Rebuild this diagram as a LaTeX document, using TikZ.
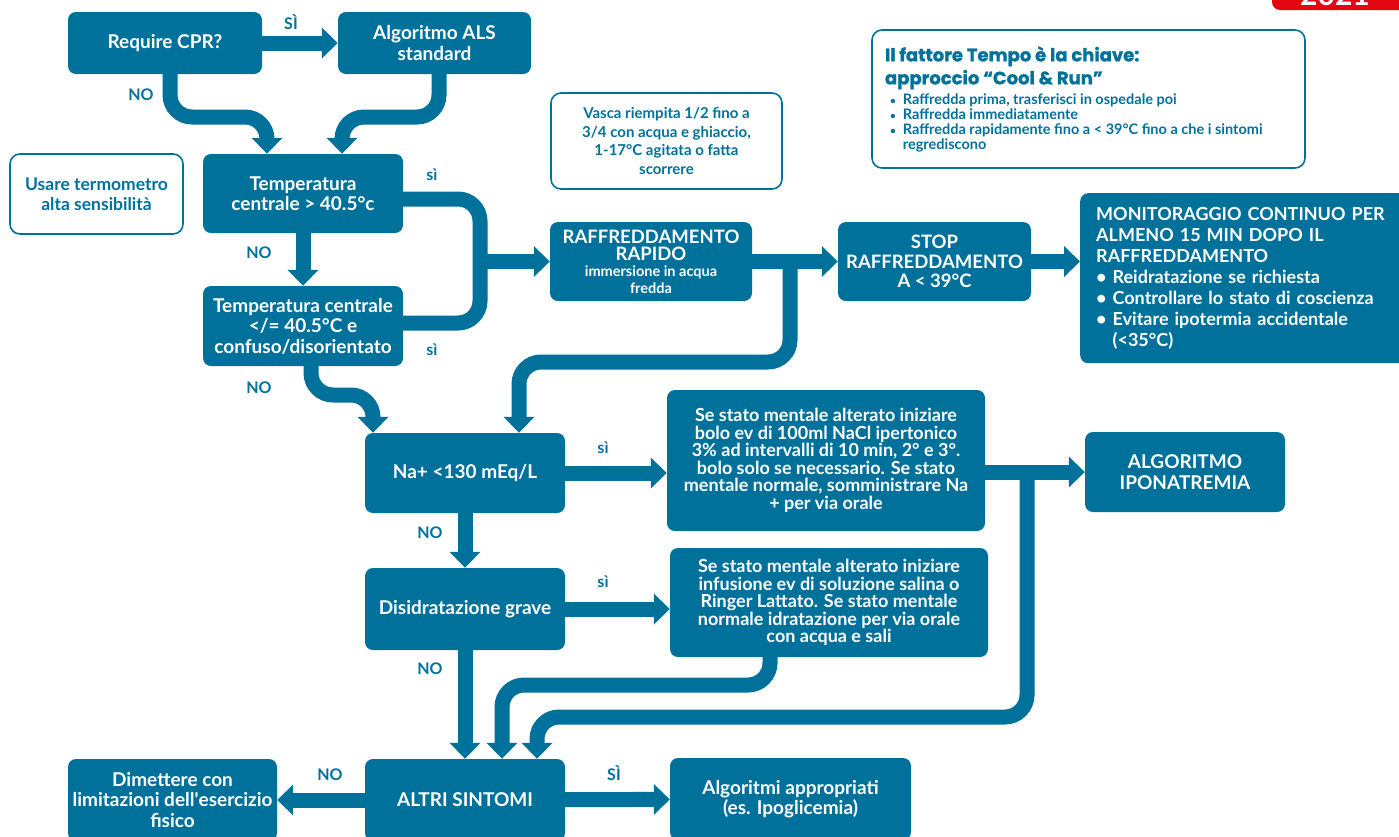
\documentclass[tikz,border=0pt]{standalone}
\usepackage{fontspec}
\setmainfont{Lato}
\newfontfamily\headfont{Poppins}[BoldFeatures={FakeBold=1.2}]
\usepackage{xcolor}
\usepackage{tikz}
\usetikzlibrary{arrows.meta}

\definecolor{hsblue}{RGB}{0,113,155}
\definecolor{hsred}{RGB}{226,6,19}
\newcommand{\ibul}{\hspace*{5pt}{\fontsize{10}{10}\selectfont •}\hspace{7pt}}

\begin{document}
\begin{tikzpicture}[x=1pt,y=-1pt,
        box/.style={fill=hsblue, rounded corners=8pt, text=white, align=center, inner sep=0pt,
            font=\bfseries\fontsize{19}{20.5}\selectfont},
        note/.style={draw=hsblue, line width=1.6pt, rounded corners=10pt, text=hsblue, align=center,
            inner sep=0pt, font=\bfseries\fontsize{17.5}{20}\selectfont},
        band/.style={draw=hsblue, line width=15pt, rounded corners=22pt},
        flow/.style={band, -{Triangle[width=30pt,length=16pt]}},
        lab/.style={text=hsblue, inner sep=0pt, font=\bfseries\fontsize{16}{16}\selectfont}]
        \useasboundingbox (0,0) rectangle (1399,836);

        % badge cut by the page edge
        \begin{scope}
            \clip (0,0) rectangle (1399,836);
            \fill[hsred, rounded corners=8pt] (1272,-40) rectangle (1420,10);
            \node[text=white, anchor=base, inner sep=0pt, font=\bfseries\fontsize{30}{30}\selectfont] (year) at (1335,5) {2021};
        \end{scope}

        \node[box, minimum width=194pt, minimum height=62pt] (cpr) at (165,43) {Require CPR?};
        \node[box, minimum width=193pt, minimum height=62pt] (als) at (434.5,43) {Algoritmo ALS\\standard};
        \node[box, minimum width=200pt, minimum height=79pt] (temp1) at (303,193.5) {Temperatura\\centrale > 40.5°c};
        \node[box, minimum width=200pt, minimum height=80pt] (temp2) at (303,326) {Temperatura centrale\\</= 40.5°C e\\confuso/disorientato};
        \node[note, minimum width=173pt, minimum height=80pt] (termo) at (96.5,194) {Usare termometro\\alta sensibilità};
        \node[note, minimum width=231pt, minimum height=96pt, font=\bfseries\fontsize{15}{18.5}\selectfont] (vasca) at (666.5,141)
            {Vasca riempita 1/2 fino a\\3/4 con acqua e ghiaccio,\\1-17°C agitata o fatta\\scorrere};
        \node[note, minimum width=433pt, minimum height=138pt, align=flush left, text width=407pt, inner xsep=13pt] (info) at (1088.5,99)
            {\headfont\bfseries\fontsize{18}{23}\selectfont Il fattore Tempo è la chiave:\\approccio “Cool \& Run”\par\vspace{4pt}
             \normalfont\bfseries\fontsize{14.5}{14.7}\selectfont
              \ibul Raffredda prima, trasferisci in ospedale poi\\
              \ibul Raffredda immediatamente\\
              \ibul Raffredda rapidamente fino a < 39°C fino a che i sintomi\\
              \phantom{\ibul}regrediscono\par};

        \node[box, minimum width=202pt, minimum height=79pt, font=\bfseries\fontsize{18.5}{17}\selectfont] (raff) at (651,261.5)
            {RAFFREDDAMENTO\\RAPIDO\\[-1pt]\fontsize{14.5}{13.5}\selectfont immersione in acqua\\\fontsize{14.5}{13.5}\selectfont fredda};
        \node[box, minimum width=193pt, minimum height=79pt, font=\bfseries\fontsize{18.5}{19.5}\selectfont] (stop) at (934.5,261.5) {STOP\\RAFFREDDAMENTO\\A < 39°C};
        \node[box, anchor=north west, minimum height=170pt, text width=298pt, inner xsep=16pt, align=left,
            font=\bfseries\fontsize{18}{21}\selectfont] (monit) at (1080,193)
            {MONITORAGGIO CONTINUO PER\\ALMENO 15 MIN DOPO IL\\RAFFREDDAMENTO\\
             • Reidratazione se richiesta\\• Controllare lo stato di coscienza\\
             • Evitare ipotermia accidentale\\\phantom{• }(<35°C)};

        \node[box, minimum width=200pt, minimum height=80pt] (na) at (465,473) {Na+ <130 mEq/L};
        \node[box, minimum width=318pt, minimum height=141pt, font=\bfseries\fontsize{18}{17.5}\selectfont] (se1) at (826,460.5)
            {Se stato mentale alterato iniziare\\bolo ev di 100ml NaCl ipertonico\\3\% ad intervalli di 10 min, 2° e 3°.\\
             bolo solo se necessario. Se stato\\mentale normale, somministrare Na\\+ per via orale};
        \node[box, minimum width=200pt, minimum height=80pt] (ipo) at (1185,472) {ALGORITMO\\IPONATREMIA};
        \node[box, minimum width=200pt, minimum height=82pt] (dis) at (465,609) {Disidratazione grave};
        \node[box, minimum width=318pt, minimum height=109pt, font=\bfseries\fontsize{18}{17.5}\selectfont] (se2) at (829,602.5)
            {Se stato mentale alterato iniziare\\infusione ev di soluzione salina o\\Ringer Lattato. Se stato mentale\\
             normale idratazione per via orale\\con acqua e sali};
        \node[box, minimum width=200pt, minimum height=82pt] (altri) at (465,800) {ALTRI SINTOMI};
        \node[box, minimum width=209pt, minimum height=82pt] (dim) at (172.5,800) {Dimettere con\\limitazioni dell\textquotesingle esercizio\\fisico};
        \node[box, minimum width=241pt, minimum height=82pt] (algo) at (790.5,799) {Algoritmi appropriati\\(es. Ipoglicemia)};

        % junctions
        \coordinate (jraff) at (480,261.5);
        \coordinate (jcool) at (790,261.5);
        \coordinate (jipo) at (1027,472);

        \draw[flow] (cpr) -- (als);
        \draw[flow] (170,0 |- cpr.south) -- (170,117) -- (267,117) -- (267,0 |- temp1.north);
        \draw[flow] (439,0 |- als.south) -- (439,117) -- (342,117) -- (342,0 |- temp1.north);
        \draw[flow] (temp1) -- (temp2);
        \draw[band] (temp1.east |- 0,199) -- (480,199) -- (480,323) -- (temp2.east |- 0,323);
        \draw[flow] (jraff) -- (raff);
        \draw[flow] (311,0 |- temp2.south) -- (311,395) -- (373,395) -- (373,0 |- na.north);
        \draw[flow] (raff) -- (stop);
        \draw[flow] (jcool) -- (790,362) -- (519,362) -- (519,0 |- na.north);
        \draw[flow] (stop) -- (monit.west |- stop);
        \draw[flow] (na) -- (se1.west |- na);
        \draw[flow] (na) -- (dis);
        \draw[flow] (dis) -- (se2.west |- dis);
        \draw[flow] (se1.east |- ipo) -- (ipo);
        \draw[flow] (jipo) -- (1027,717) -- (537,717) -- (537,0 |- altri.north);
        \draw[flow] (770,0 |- se2.south) -- (770,685) -- (502,685) -- (502,0 |- altri.north);
        \draw[flow] (dis) -- (altri);
        \draw[flow] (altri) -- (dim);
        \draw[flow] (altri) -- (algo);

        \node[lab] (l1) at (291,22) {SÌ};
        \node[lab] (l2) at (141,95) {NO};
        \node[lab] (l3) at (432,175) {sì};
        \node[lab] (l4) at (259,253) {NO};
        \node[lab] (l5) at (432,350) {sì};
        \node[lab] (l6) at (259,388) {NO};
        \node[lab] (l7) at (603,448) {sì};
        \node[lab] (l8) at (430,533) {NO};
        \node[lab] (l9) at (603,582) {sì};
        \node[lab] (l10) at (430,669) {NO};
        \node[lab] (l11) at (330,775) {NO};
        \node[lab] (l12) at (614,773) {SÌ};
    \end{tikzpicture}
\end{document}
